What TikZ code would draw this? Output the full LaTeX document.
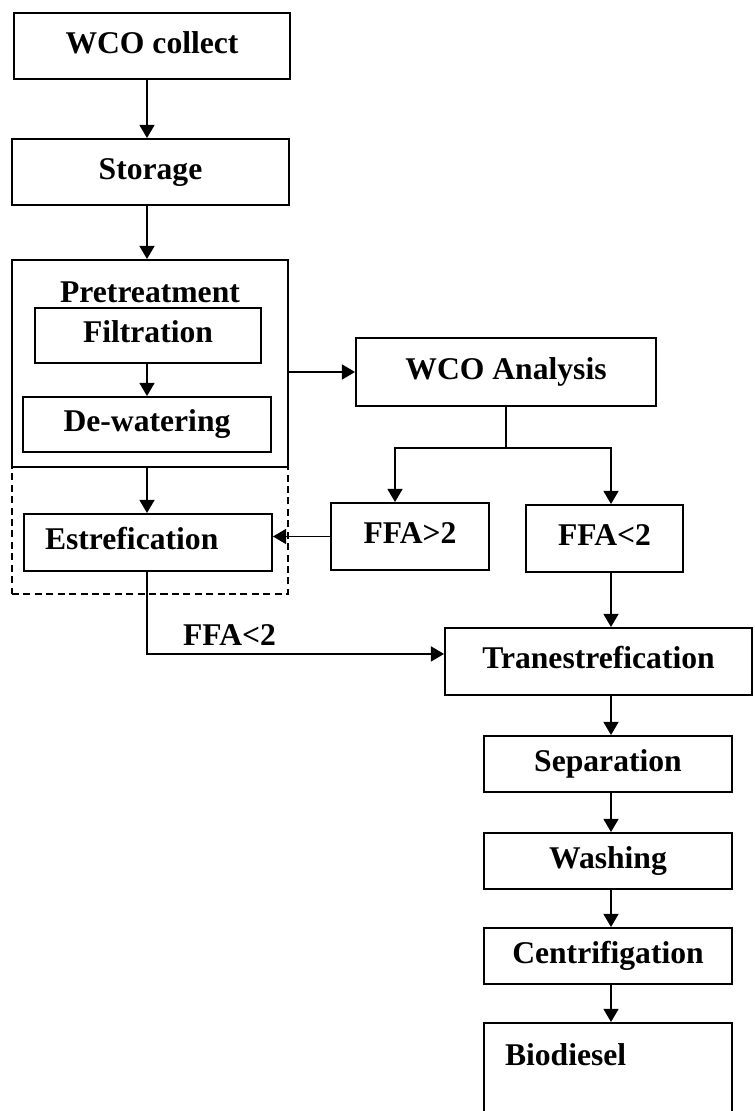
\documentclass[tikz,border=0pt]{standalone}
\usepackage{fontspec}
\setmainfont{Liberation Serif}
\usetikzlibrary{arrows.meta}

\begin{document}
\begin{tikzpicture}[x=0.02cm, y=-0.02cm, font=\fontsize{18}{22}\selectfont\bfseries,
  box/.style={draw, line width=1.1pt, inner sep=0pt, align=center, text height=12.6pt, text depth=4.5pt},
  leftbox/.style={box, align=left, text width=4.12cm, inner xsep=0.42cm},
  zone/.style={draw, dashed, dash pattern=on 4pt off 2.5pt, line width=0.8pt, minimum width=5.52cm, minimum height=2.54cm},
  arr/.style={-{Triangle[length=7.5pt,width=8.5pt]}, line width=1.1pt}]
  \useasboundingbox (0,0) rectangle (754,1111);
  \clip (0,0) rectangle (754,1111);
  \coordinate (lcol) at (147,0);
  \coordinate (rcol) at (611,0);

  \node[box, minimum width=5.52cm, minimum height=1.32cm] (collect) at (152,46) {WCO collect};
  \node[box, minimum width=5.54cm, minimum height=1.32cm] (storage) at (150.5,172) {Storage};
  \node[zone] (estzone) at (150,530.5) {};
  \node[box, fill=white, minimum width=5.52cm, minimum height=4.14cm] (pre) at (150,363.5) {};
  \node[text height=12.6pt, text depth=4.5pt, inner sep=0pt] (pretxt) at (150,295) {Pretreatment};
  \node[box, minimum width=4.52cm, minimum height=1.10cm] (filt) at (148,335.5) {Filtration};
  \node[box, minimum width=4.96cm, minimum height=1.10cm] (dewat) at (147,424.5) {De-watering};
  \node[leftbox, minimum height=1.14cm] (ester) at (148,542.5) {Estrefication};
  \node[box, minimum width=6.00cm, minimum height=1.36cm] (analysis) at (506,372) {WCO Analysis};
  \node[box, minimum width=3.16cm, minimum height=1.34cm] (ffahi) at (410,536.5) {FFA>2};
  \node[box, minimum width=3.14cm, minimum height=1.34cm] (ffalo) at (604.5,538.5) {FFA<2};
  \node[box, minimum width=6.14cm, minimum height=1.34cm] (trans) at (598.5,661.5) {Tranestrefication};
  \node[box, minimum width=4.96cm, minimum height=1.12cm] (sep) at (608,764) {Separation};
  \node[box, minimum width=4.96cm, minimum height=1.12cm] (wash) at (608,861) {Washing};
  \node[box, minimum width=4.96cm, minimum height=1.12cm] (centr) at (608,956) {Centrifigation};
  \node[leftbox, anchor=north, inner ysep=0pt, text height=0.86cm, text depth=1.2cm] (bio) at (608,1022) {Biodiesel};
  \node[text height=12.6pt, text depth=4.5pt, inner sep=0pt] (lbl) at (229.5,638.5) {FFA<2};

  \draw[arr] (collect.south -| lcol) -- (storage.north -| lcol);
  \draw[arr] (storage.south -| lcol) -- (pre.north -| lcol);
  \draw[arr] (filt.south -| lcol) -- (dewat.north -| lcol);
  \draw[arr] (pre.south -| lcol) -- (ester.north -| lcol);
  \draw[arr] (pre.east |- analysis.west) -- (analysis.west);
  \draw[line width=1.1pt] (analysis.south) -- ++(0,41) coordinate (split);
  \draw[arr] (split) -| ([xshift=-0.3cm]ffahi.north);
  \draw[arr] (split) -| (ffalo.north -| rcol);
  \draw[arr] (ffahi.west) -- (ester.east |- ffahi.west);
  \draw[arr] (ester.south -| lcol) |- ([yshift=4.3pt]trans.west);
  \draw[arr] (ffalo.south -| rcol) -- (trans.north -| rcol);
  \draw[arr] (trans.south -| rcol) -- (sep.north -| rcol);
  \draw[arr] (sep.south -| rcol) -- (wash.north -| rcol);
  \draw[arr] (wash.south -| rcol) -- (centr.north -| rcol);
  \draw[arr] (centr.south -| rcol) -- (bio.north -| rcol);
\end{tikzpicture}
\end{document}
